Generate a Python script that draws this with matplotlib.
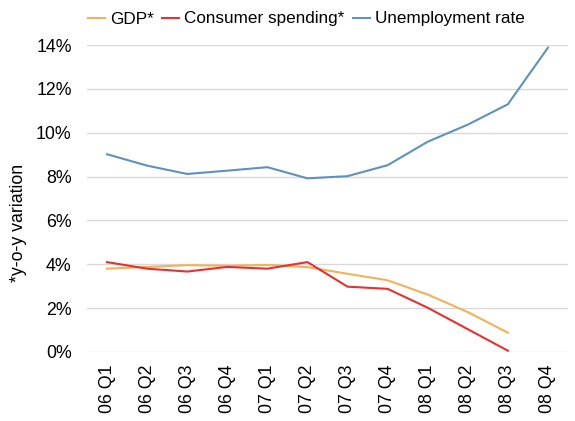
import matplotlib
matplotlib.use('Agg')
import matplotlib.pyplot as plt
from matplotlib.ticker import FuncFormatter

plt.rcParams['font.family'] = ['Liberation Sans', 'DejaVu Sans']

quarters = ['06 Q1', '06 Q2', '06 Q3', '06 Q4', '07 Q1', '07 Q2',
            '07 Q3', '07 Q4', '08 Q1', '08 Q2', '08 Q3', '08 Q4']
gdp = [3.8, 3.88, 3.96, 3.93, 3.97, 3.87, 3.57, 3.27, 2.62, 1.82, 0.88]
consumer = [4.1, 3.8, 3.67, 3.88, 3.8, 4.1, 2.98, 2.88, 2.02, 1.04, 0.06]
unemployment = [9.02, 8.5, 8.12, 8.27, 8.43, 7.92, 8.02, 8.52, 9.59, 10.37, 11.3, 13.88]

fs = 12.8

fig = plt.figure(figsize=(5.75, 4.21), dpi=100)
ax = fig.add_axes([0.1513, 0.1639, 0.8365, 0.7291])

x = list(range(len(quarters)))
l1, = ax.plot(x[:len(gdp)], gdp, color='#F4B05A', lw=1.5, label='GDP*')
l2, = ax.plot(x[:len(consumer)], consumer, color='#E5312F', lw=1.5, label='Consumer spending*')
l3, = ax.plot(x, unemployment, color='#5F91BF', lw=1.5, label='Unemployment rate')

ax.set_xlim(-0.5, len(quarters) - 0.5)
ax.set_ylim(0, 14)
ax.set_yticks(range(0, 15, 2))
ax.yaxis.set_major_formatter(FuncFormatter(lambda v, p: f'{v:.0f}%'))
ax.set_xticks(x)
ax.set_xticklabels(quarters, rotation=90)
ax.tick_params(axis='both', length=0, labelsize=fs)
ax.tick_params(axis='y', pad=11)
ax.tick_params(axis='x', pad=9)
ax.grid(axis='y', color='#d9d9d9', lw=1)
ax.set_axisbelow(True)
for s in ax.spines.values():
    s.set_visible(False)

fig.text(0.033, 0.47, '*y-o-y variation', rotation=90, ha='center', va='center', fontsize=fs)

fig.legend(handles=[l1, l2, l3], loc='center', bbox_to_anchor=(0.533, 1 - 19 / 421),
           ncol=3, frameon=False, fontsize=12.3, handlelength=1.0,
           handletextpad=0.3, columnspacing=0.5, borderaxespad=0)

fig.savefig('out.png', dpi=100)
